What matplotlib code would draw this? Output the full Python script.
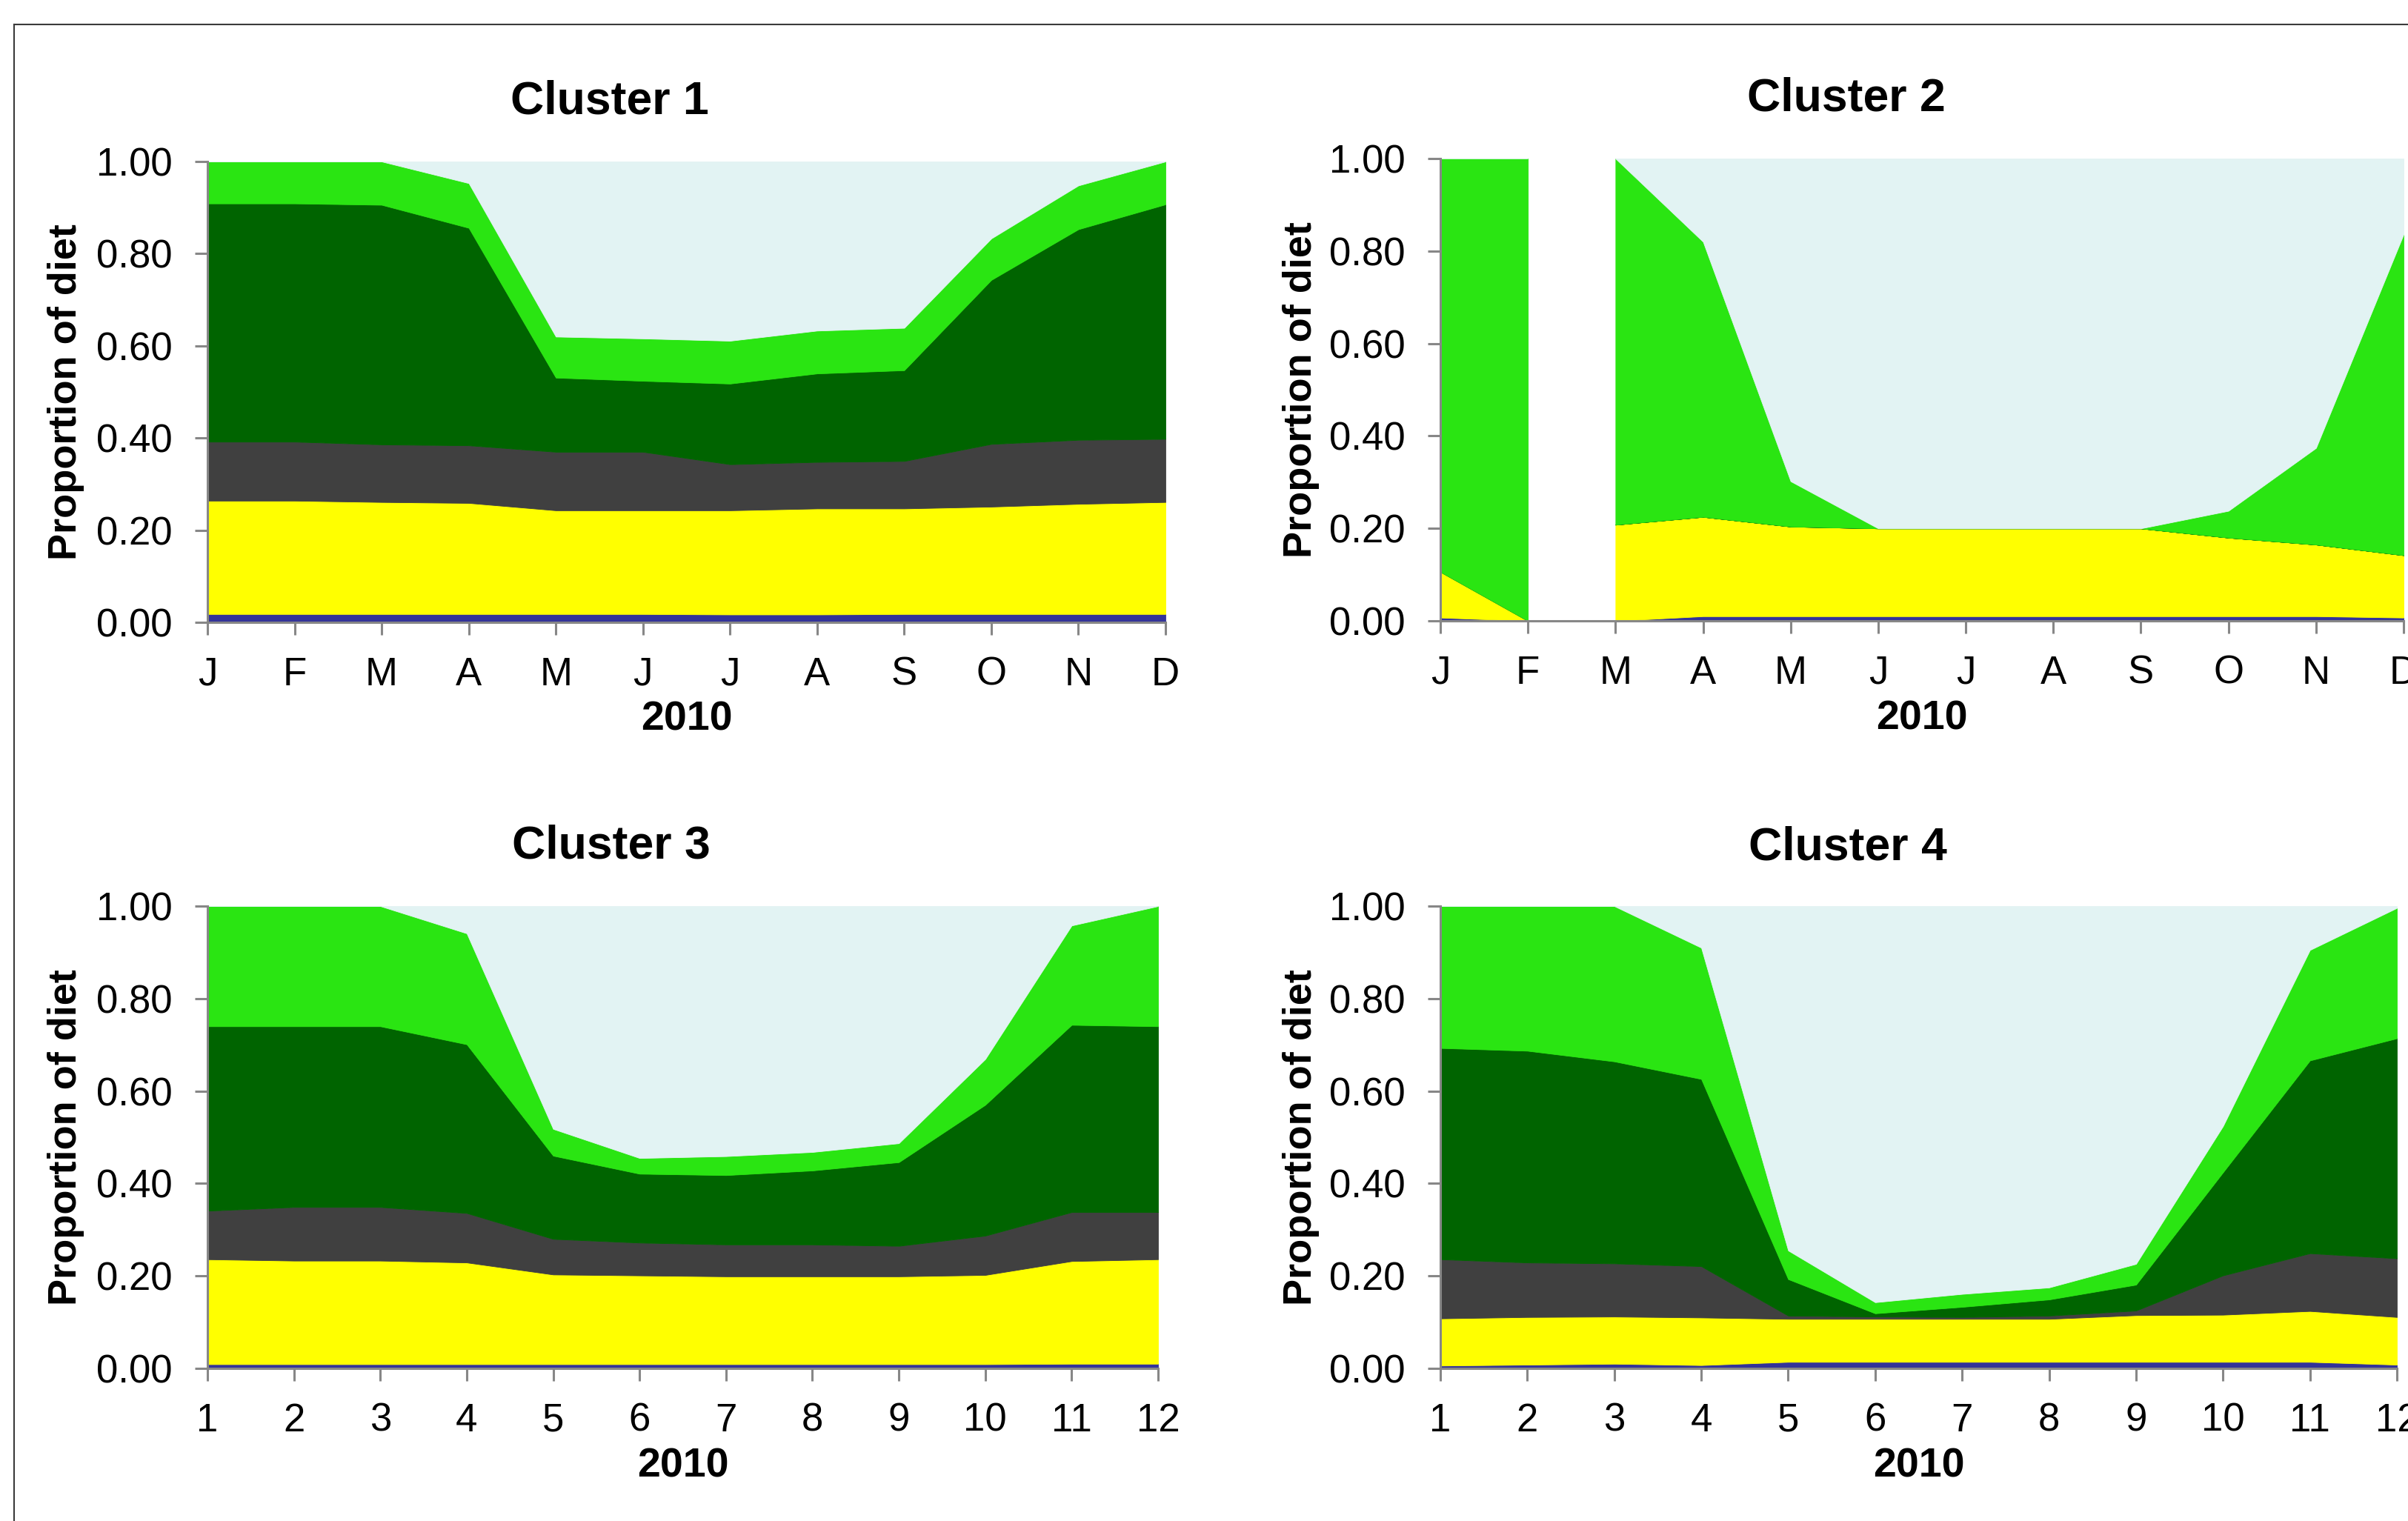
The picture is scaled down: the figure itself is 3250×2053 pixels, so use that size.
import numpy as np
import matplotlib
matplotlib.use("Agg")
import matplotlib.pyplot as plt
from matplotlib.lines import Line2D

plt.rcParams["font.family"] = ["Liberation Sans", "DejaVu Sans"]

W, H = 3250, 2053

MONTH_LETTERS = ["J", "F", "M", "A", "M", "J", "J", "A", "S", "O", "N", "D"]
MONTH_NUMBERS = [str(i) for i in range(1, 13)]
YEAR = "2010"

# cumulative top of each layer (bottom -> top)
# layers: navy, yellow, dark grey, dark green, bright green, rest (light blue) up to 1.0
c1_navy = [0.018, 0.018, 0.018, 0.018, 0.018, 0.018, 0.017, 0.017, 0.018, 0.018, 0.018, 0.018]
c1_yellow = [0.264, 0.264, 0.261, 0.259, 0.243, 0.243, 0.243, 0.247, 0.247, 0.251, 0.257, 0.261]
c1_grey = [0.392, 0.392, 0.386, 0.384, 0.370, 0.370, 0.343, 0.348, 0.350, 0.387, 0.396, 0.398]
c1_dkgreen = [0.909, 0.909, 0.906, 0.856, 0.531, 0.524, 0.518, 0.540, 0.547, 0.743, 0.853, 0.907]
c1_green = [1.000, 1.000, 1.000, 0.953, 0.620, 0.616, 0.611, 0.633, 0.639, 0.833, 0.948, 1.000]

c2_navy = [0.007, 0.000, 0.000, 0.010, 0.010, 0.010, 0.010, 0.010, 0.010, 0.010, 0.010, 0.007]
c2_yellow = [0.106, 0.000, 0.208, 0.225, 0.204, 0.200, 0.200, 0.200, 0.200, 0.180, 0.165, 0.142]
c2_grey = [0.106, 0.000, 0.208, 0.225, 0.204, 0.200, 0.200, 0.200, 0.200, 0.180, 0.165, 0.142]
c2_dkgreen = [0.106, 0.000, 0.208, 0.225, 0.204, 0.200, 0.200, 0.200, 0.200, 0.180, 0.165, 0.142]
c2_green = [1.000, 1.000, 1.000, 0.820, 0.302, 0.200, 0.200, 0.200, 0.200, 0.238, 0.374, 0.836]
c2_segments = [(0, 2), (2, 12)]   # no data between F and M

c3_navy = [0.009, 0.009, 0.009, 0.009, 0.009, 0.009, 0.009, 0.009, 0.009, 0.009, 0.010, 0.010]
c3_yellow = [0.236, 0.233, 0.233, 0.229, 0.203, 0.201, 0.199, 0.199, 0.199, 0.202, 0.232, 0.236]
c3_grey = [0.341, 0.349, 0.349, 0.336, 0.280, 0.272, 0.268, 0.268, 0.265, 0.287, 0.338, 0.338]
c3_dkgreen = [0.740, 0.740, 0.740, 0.701, 0.460, 0.421, 0.418, 0.428, 0.446, 0.570, 0.743, 0.740]
c3_green = [1.000, 1.000, 1.000, 0.941, 0.518, 0.455, 0.459, 0.468, 0.487, 0.669, 0.958, 1.000]

c4_navy = [0.006, 0.008, 0.010, 0.007, 0.014, 0.014, 0.014, 0.014, 0.014, 0.014, 0.014, 0.008]
c4_yellow = [0.108, 0.111, 0.112, 0.110, 0.107, 0.107, 0.107, 0.107, 0.115, 0.116, 0.124, 0.111]
c4_grey = [0.236, 0.229, 0.227, 0.221, 0.114, 0.112, 0.111, 0.114, 0.125, 0.201, 0.249, 0.238]
c4_dkgreen = [0.693, 0.687, 0.664, 0.626, 0.193, 0.119, 0.133, 0.149, 0.181, 0.424, 0.666, 0.714]
c4_green = [1.000, 1.000, 1.000, 0.910, 0.255, 0.143, 0.161, 0.175, 0.226, 0.524, 0.905, 0.996]

LAYER_COLORS = ["#333399", "#ffff00", "#404040", "#006400", "#2ae512", "#e2f3f3"]
AXIS_GREY = "#878787"

# panel layout in pixels: (left, top, right, bottom), title pos, ylabel x, xlabel y
PANELS = [
    dict(title="Cluster 1", box=(280, 218, 1573, 840), title_xy=(823, 137), ylab_x=89,
         xlab_y=972, labels=MONTH_LETTERS,
         tops=[c1_navy, c1_yellow, c1_grey, c1_dkgreen, c1_green], segments=[(0, 12)]),
    dict(title="Cluster 2", box=(1944, 214, 3244, 838), title_xy=(2492, 133), ylab_x=1756,
         xlab_y=970, labels=MONTH_LETTERS,
         tops=[c2_navy, c2_yellow, c2_grey, c2_dkgreen, c2_green], segments=c2_segments),
    dict(title="Cluster 3", box=(280, 1223, 1563, 1847), title_xy=(825, 1142), ylab_x=89,
         xlab_y=1980, labels=MONTH_NUMBERS,
         tops=[c3_navy, c3_yellow, c3_grey, c3_dkgreen, c3_green], segments=[(0, 12)]),
    dict(title="Cluster 4", box=(1944, 1223, 3235, 1847), title_xy=(2494, 1144), ylab_x=1756,
         xlab_y=1980, labels=MONTH_NUMBERS,
         tops=[c4_navy, c4_yellow, c4_grey, c4_dkgreen, c4_green], segments=[(0, 12)]),
]


def fx(px):
    return px / W


def fy(py):
    return 1 - py / H


fig = plt.figure(figsize=(W / 100, H / 100), dpi=100)

# outer frame (only left and top edges are visible)
fig.add_artist(Line2D([fx(19), fx(19)], [fy(33), 0], transform=fig.transFigure, color="#3a3a3a", lw=1.5))
fig.add_artist(Line2D([fx(19), 1], [fy(33), fy(33)], transform=fig.transFigure, color="#3a3a3a", lw=1.5))

x = np.arange(12)

for p in PANELS:
    left, top, right, bottom = p["box"]
    ax = fig.add_axes([fx(left), fy(bottom), (right - left) / W, (bottom - top) / H])

    levels = [np.zeros(12)] + [np.array(t) for t in p["tops"]] + [np.ones(12)]
    for s0, s1 in p["segments"]:
        xs = x[s0:s1]
        for i, col in enumerate(LAYER_COLORS):
            lo = levels[i][s0:s1]
            hi = levels[i + 1][s0:s1]
            ax.fill_between(xs, lo, hi, color=col, lw=0.6, edgecolor=col)

    ax.set_xlim(0, 11)
    ax.set_ylim(0, 1)
    ax.set_xticks(x)
    ax.set_xticklabels(p["labels"])
    ax.set_yticks(np.arange(0, 1.01, 0.2))
    ax.set_yticklabels([f"{v:.2f}" for v in np.arange(0, 1.01, 0.2)])

    for side in ["top", "right"]:
        ax.spines[side].set_visible(False)
    for side in ["left", "bottom"]:
        ax.spines[side].set_color(AXIS_GREY)
        ax.spines[side].set_linewidth(2.2)
        ax.spines[side].set_zorder(5)

    ax.tick_params(axis="both", direction="out", length=12, width=2.2, color=AXIS_GREY,
                   labelsize=38, labelcolor="black")
    ax.tick_params(axis="y", pad=22)
    ax.tick_params(axis="x", pad=21)

    fig.text(fx(p["title_xy"][0]), fy(p["title_xy"][1]), p["title"], ha="center", va="center",
             fontsize=45, fontweight="bold")
    fig.text(fx((left + right) / 2), fy(p["xlab_y"]), YEAR, ha="center", va="center",
             fontsize=40, fontweight="bold")
    fig.text(fx(p["ylab_x"]), fy((top + bottom) / 2), "Proportion of diet", ha="center", va="center",
             rotation=90, fontsize=39, fontweight="bold")

fig.savefig("out.png", dpi=100)
